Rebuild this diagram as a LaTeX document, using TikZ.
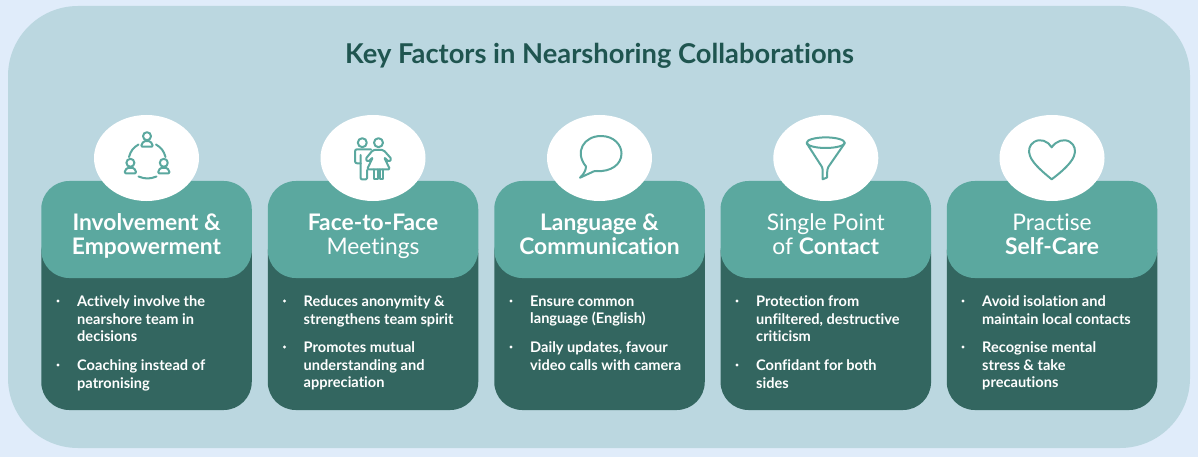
\documentclass[tikz,border=0pt]{standalone}
\usepackage{fontspec}
\setmainfont{Lato}[Ligatures=NoCommon]
\usetikzlibrary{positioning,calc,shapes.geometric}

\definecolor{pagebg}{HTML}{E0ECFA}
\definecolor{panelbg}{HTML}{BBD7E0}
\definecolor{headbg}{HTML}{5BA89F}
\definecolor{bodybg}{HTML}{336660}
\definecolor{titlecol}{HTML}{1F5550}

\tikzset{
  panel/.style={fill=panelbg,rounded corners=70pt,minimum width=1182pt,minimum height=442pt,inner sep=0},
  bodybox/.style={fill=bodybg,rounded corners=28pt,minimum width=210.5pt,minimum height=185pt,inner sep=0},
  headbox/.style={fill=headbg,rounded corners=28pt,minimum width=210.5pt,minimum height=97pt,inner sep=0},
  headtext/.style={inner sep=0,text=white,align=center,font=\fontsize{22.8}{24.6}\selectfont,execute at begin node=\strut},
  disc/.style={fill=white,ellipse,minimum width=105pt,minimum height=86pt,inner sep=0},
  dotnode/.style={fill=white,circle,minimum size=3.4pt,inner sep=0},
  itemtext/.style={anchor=north west,inner sep=0,text=white,align=left,
    font=\fontsize{14.6}{17.7}\selectfont\bfseries,execute at begin node=\strut},
  iconline/.style={draw=headbg,line width=2pt,line join=round,line cap=round},
  person/.pic={
    \draw[iconline] (0,-10.5) circle (4);
    \draw[iconline,rounded corners=1.5pt] (-6.3,0) -- (6.3,0) -- (3.6,-5.5) -- (-3.6,-5.5) -- cycle;
  }
}

\begin{document}
\begin{tikzpicture}[x=1pt,y=-1pt]
  \useasboundingbox (0,0) rectangle (1198,457);
  \fill[pagebg] (0,0) rectangle (1198,457);
  \node[panel] (panel) at (599,227) {};
  \node[font=\fontsize{27.3}{30}\selectfont\bfseries,text=titlecol,inner sep=0] (title) at (599.5,55.5) {Key Factors in Nearshoring Collaborations};

  % first card
  \node[bodybox] (body1) at (146.5,317.5) {};
  \node[headbox] (head1) at (146.5,229.5) {};
  \node[headtext] (name1) at (146.5,237.8) {\textbf{Involvement \&}\\\textbf{Empowerment}};
  \node[disc] (disc1) at (146.5,158) {};
  \node[dotnode] (dot1a) at (58,301) {};
  \node[itemtext] (item1a) at (77,295.5) {Actively involve the\\nearshore team in\\decisions};
  \node[dotnode] (dot1b) at (58,365) {};
  \node[itemtext] (item1b) at (77,359.5) {Coaching instead of\\patronising};

  % second card
  \node[bodybox] (body2) at (373,317.5) {};
  \node[headbox] (head2) at (373,229.5) {};
  \node[headtext] (name2) at (373,237.8) {\textbf{Face-to-Face}\\Meetings};
  \node[disc] (disc2) at (373,158) {};
  \node[dotnode] (dot2a) at (284.5,301) {};
  \node[itemtext] (item2a) at (303.5,295.5) {Reduces anonymity \&\\strengthens team spirit};
  \node[dotnode] (dot2b) at (284.5,347) {};
  \node[itemtext] (item2b) at (303.5,341.5) {Promotes mutual\\understanding and\\appreciation};

  % third card
  \node[bodybox] (body3) at (599.5,317.5) {};
  \node[headbox] (head3) at (599.5,229.5) {};
  \node[headtext] (name3) at (599.5,237.8) {\textbf{Language \&}\\\textbf{Communication}};
  \node[disc] (disc3) at (599.5,158) {};
  \node[dotnode] (dot3a) at (511,301) {};
  \node[itemtext] (item3a) at (530,295.5) {Ensure common\\language (English)};
  \node[dotnode] (dot3b) at (511,347) {};
  \node[itemtext] (item3b) at (530,341.5) {Daily updates, favour\\video calls with camera};

  % fourth card
  \node[bodybox] (body4) at (825.8,317.5) {};
  \node[headbox] (head4) at (825.8,229.5) {};
  \node[headtext] (name4) at (825.8,237.8) {Single Point\\of \textbf{Contact}};
  \node[disc] (disc4) at (825.8,158) {};
  \node[dotnode] (dot4a) at (737,301) {};
  \node[itemtext] (item4a) at (756,295.5) {Protection from\\unfiltered, destructive\\criticism};
  \node[dotnode] (dot4b) at (737,365) {};
  \node[itemtext] (item4b) at (756,359.5) {Confidant for both\\sides};

  % fifth card
  \node[bodybox] (body5) at (1052,317.5) {};
  \node[headbox] (head5) at (1052,229.5) {};
  \node[headtext] (name5) at (1052,237.8) {Practise\\\textbf{Self-Care}};
  \node[disc] (disc5) at (1052,158) {};
  \node[dotnode] (dot5a) at (963,301) {};
  \node[itemtext] (item5a) at (982,295.5) {Avoid isolation and\\maintain local contacts};
  \node[dotnode] (dot5b) at (963,347) {};
  \node[itemtext] (item5b) at (982,341.5) {Recognise mental\\stress \& take\\precautions};

  % icons
  \pic at (147,146.7) {person};
  \pic at (130.4,173.3) {person};
  \pic at (163.8,173.3) {person};
  \draw[iconline] (129,157) to[bend left=22] (138.5,144.5);
  \draw[iconline] (156,144.5) to[bend left=22] (165.5,157);
  \draw[iconline] (138.5,176.5) to[bend right=22] (156.5,176.5);

  \draw[iconline] (362.3,142.7) circle (4.5);
  \draw[iconline] (378.5,142.7) circle (4.5);
  \draw[iconline,rounded corners=2pt] (371,149.3) -- (355,149.3) -- (355,163.3) -- (360.7,163.3);
  \draw[iconline,rounded corners=1pt] (360.7,155) -- (360.7,179.3) -- (367,179.3) -- (367,170);
  \draw[iconline,rounded corners=1.5pt] (373,150) -- (383.5,150) -- (391.5,159) -- (389,162) -- (384,157) -- (390,169.5) -- (367,169.5) -- (373,157) -- (368,162) -- (365.5,159) -- cycle;
  \draw[iconline] (374,169.5) -- (374,179.3) -- (378,179.3) -- (378,169.5);
  \draw[iconline] (379.5,169.5) -- (379.5,179.3) -- (383,179.3) -- (383,169.5);

  \draw[iconline] (586,166.5) .. controls (574,152) and (584,136) .. (601,136) .. controls (614,136) and (621.5,145) .. (621.5,153.5) .. controls (621.5,165) and (610,172) .. (597,171) .. controls (595,171) and (594,171) .. (593.5,171.5) -- (580,177.7) .. controls (584,174) and (586,170) .. (586,166.5);

  \draw[iconline] (825.7,142.7) ellipse (19 and 5.3);
  \draw[iconline] (806.7,143.3) -- (822,167) .. controls (822.5,168) and (822.7,169) .. (822.7,170) -- (822.7,179.3) -- (827,177.5) -- (827.3,170) .. controls (827.3,169) and (827.7,168) .. (828.3,167) -- (844.7,143.3);

  \draw[iconline] (1051.7,147.3) .. controls (1048,141) and (1040,138) .. (1034,142) .. controls (1029,145) and (1028,151) .. (1030,156) .. controls (1033,164) and (1044,173) .. (1051.7,179.3) .. controls (1060,173) and (1071,164) .. (1074,156) .. controls (1076,151) and (1075,145) .. (1070,142) .. controls (1064,138) and (1056,141) .. (1051.7,147.3) -- cycle;
\end{tikzpicture}
\end{document}
